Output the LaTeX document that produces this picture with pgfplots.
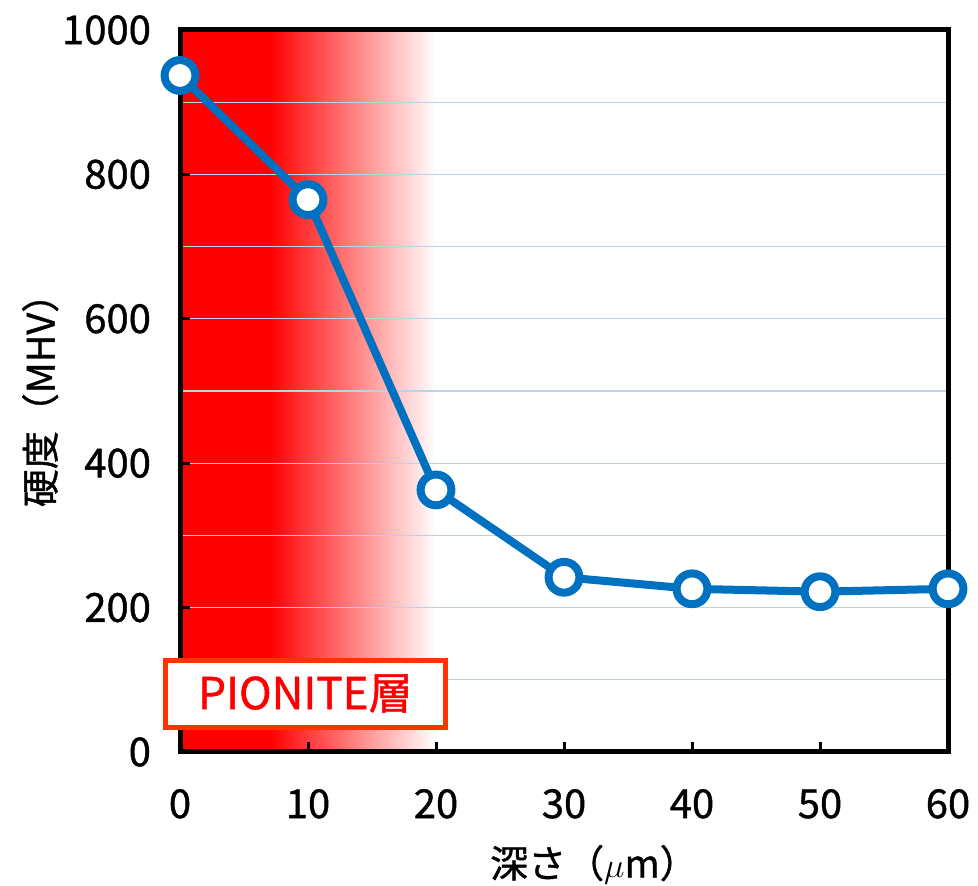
\documentclass[border=0pt]{standalone}
\usepackage{pgfplots}
\pgfplotsset{compat=1.18}
\usepackage{fontspec}
\setmainfont{Noto Sans CJK JP}[FakeBold=1]
\definecolor{lineblue}{RGB}{0,112,192}
\definecolor{gridblue}{RGB}{185,210,238}
\definecolor{boxorange}{RGB}{255,51,0}
\pgfplotstableread{
x y
0 937
10 765
20 363
30 242
40 226
50 222
60 226
}\hardness
\begin{document}
\begin{tikzpicture}
\begin{axis}[
  set layers,
  scale only axis, width=384pt, height=361pt,
  at={(0,0)}, anchor=south west,
  xmin=0, xmax=60, ymin=0, ymax=1000,
  xtick={0,10,...,60}, ytick={0,200,...,1000},
  minor ytick={100,300,500,700,900},
  ymajorgrids, yminorgrids,
  major grid style={gridblue, line width=0.6pt},
  minor grid style={gridblue, line width=0.6pt},
  axis line style={black, line width=2.5pt},
  tick style={black, line width=1.5pt},
  major tick length=5pt, minor tick length=0pt,
  tick align=inside,
  xtick pos=bottom, ytick pos=left,
  clip=false,
  /pgf/number format/assume math mode=true,
  /pgf/number format/1000 sep={},
  ticklabel style={font=\fontsize{20}{24}\selectfont, black},
  xticklabel style={yshift=-15pt},
  yticklabel style={xshift=-11pt},
  xlabel={深さ（$\mu$m）},
  ylabel={硬度（MHV）},
  every axis x label/.style={at={(axis description cs:0.539,-0.156)}, anchor=center, font=\fontsize{19}{20}\selectfont},
  every axis y label/.style={at={(axis description cs:-0.182,0.5)}, rotate=90, anchor=center, font=\fontsize{19}{20}\selectfont},
]
\begin{pgfonlayer}{axis background}
  \fill[red] (axis cs:0,0) rectangle (axis cs:7,1000);
  \fill[left color=red, right color=white] (axis cs:7,0) rectangle (axis cs:20,1000);
\end{pgfonlayer}
\addplot[lineblue, line width=4pt, mark=*, mark size=7.7pt,
  mark options={fill=white, draw=lineblue, line width=4pt}] table[x=x, y=y] {\hardness};
\node[draw=boxorange, line width=2.5pt, fill=white, text=red,
  minimum width=140pt, minimum height=33.5pt, inner sep=0pt,
  font=\fontsize{22}{24}\selectfont] at (axis cs:9.8,81) {PIONITE層};
\end{axis}
\pgfresetboundingbox
\path (-90pt,-67pt) rectangle (399pt,376pt);
\end{tikzpicture}
\end{document}
